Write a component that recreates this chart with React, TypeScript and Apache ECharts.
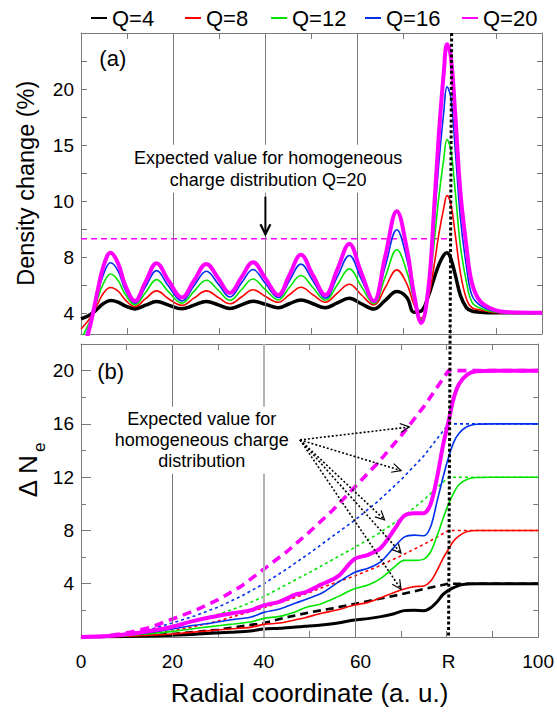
import React, { useEffect, useRef } from 'react';
import * as echarts from 'echarts';

// ---------------- data ----------------
const R = 80.4; // radius of the cluster (tick label "R")
const seriesNames = ['Q=4', 'Q=8', 'Q=12', 'Q=16', 'Q=20'];

// Panel (a): density change, radial grid
const radiusA = [0, 1.5, 2.6, 3.7, 4.8, 6.4, 8.0, 9.6, 11.7, 14.0, 16.4, 19.0, 21.9, 24.5, 27.2, 29.8, 32.3, 34.8, 37.3, 40.0, 42.8, 45.2, 47.7, 50.3, 53.0, 55.6, 58.2, 60.8, 63.5, 66.0, 68.5, 70.7, 72.2, 73.8, 75.4, 76.5, 77.6, 78.7, 79.4, 80.2, 81.2, 82.3, 83.6, 84.8, 86.6, 89.5, 93, 100];
const densQ4 = [-0.5, -0.24, 0.05, 0.45, 0.85, 1.13, 1.0, 0.65, 0.39, 0.72, 1.04, 0.72, 0.4, 0.72, 1.05, 0.75, 0.42, 0.75, 1.08, 0.8, 0.5, 0.85, 1.19, 0.85, 0.5, 0.92, 1.34, 0.85, 0.38, 1.15, 1.93, 1.4, 0.1, 0.2, 1.6, 3.0, 4.3, 5.2, 5.4, 4.9, 3.4, 1.6, 0.5, 0.2, 0.1, 0.05, 0.05, 0.05];
const densQ8 = [-1.4, -0.7, 0, 0.9, 1.75, 2.3, 2.0, 1.2, 0.6, 1.3, 2.0, 1.3, 0.7, 1.35, 2.0, 1.4, 0.85, 1.45, 2.1, 1.5, 0.98, 1.65, 2.32, 1.65, 0.98, 1.8, 2.59, 1.65, 0.74, 2.3, 3.87, 2.6, 0.8, -0.45, 1.5, 4.0, 7.0, 9.4, 10.5, 9.8, 7.0, 3.6, 1.3, 0.5, 0.3, 0.08, 0.05, 0.05];
const densQ12 = [-2.3, -1.1, 0, 1.4, 2.6, 3.5, 2.95, 1.7, 0.75, 1.85, 3.0, 1.9, 0.9, 1.95, 2.95, 2.05, 1.15, 2.1, 3.05, 2.1, 1.19, 2.3, 3.37, 2.3, 1.16, 2.55, 3.96, 2.4, 0.86, 3.25, 5.66, 3.7, 1.2, -0.6, 1.9, 5.9, 10.3, 13.8, 15.5, 14.6, 10.8, 6.0, 2.8, 1.0, 0.45, 0.13, 0.05, 0.05];
const densQ16 = [-3.1, -1.5, 0, 1.8, 3.4, 4.5, 3.8, 2.1, 0.9, 2.35, 3.8, 2.4, 1.1, 2.45, 3.75, 2.6, 1.45, 2.7, 3.9, 2.65, 1.4, 2.9, 4.38, 2.9, 1.34, 3.25, 5.15, 3.05, 0.98, 4.2, 7.45, 4.8, 1.5, -0.7, 2.2, 7.4, 13.3, 18.0, 20.2, 19.3, 14.5, 8.5, 4.2, 1.6, 0.7, 0.2, 0.06, 0.05];
const densQ20 = [-4.0, -1.9, 0, 2.2, 4.1, 5.4, 4.5, 2.5, 1.1, 2.8, 4.47, 2.9, 1.4, 2.9, 4.4, 3.1, 1.8, 3.2, 4.56, 3.1, 1.64, 3.4, 5.21, 3.4, 1.64, 3.9, 6.17, 3.6, 1.1, 5.1, 9.09, 5.7, 1.8, -0.86, 2.4, 8.7, 15.8, 21.5, 24.0, 23.0, 17.6, 10.8, 6.0, 2.7, 1.07, 0.33, 0.09, 0.05];
const expectedRadiusA = [0, R];
const expectedDensQ20 = 6.65;

// Panel (a) y axis: tick positions and their printed labels
const yTickValuesA = [0, 2.5, 5, 7.5, 10, 12.5, 15, 17.5, 20, 22.5, 25];
const yLabelValuesA = [0, 5, 10, 15, 20];
const yLabelTextsA = ['4', '8', '10', '15', '20'];

// Panel (b): cumulative Delta N_e
const radiusB = [0, 5, 10, 15, 20, 24, 28.3, 32.6, 37, 40, 43.5, 47, 49, 52.6, 56.2, 59.8, 62.8, 65.6, 68.5, 70.7, 72.9, 75, 76.5, 77.9, 79.2, 80.4, 81.5, 82.7, 84.5, 86.5, 90, 100];
const deltaQ4 = [0, 0.01, 0.03, 0.07, 0.13, 0.18, 0.28, 0.36, 0.45, 0.6, 0.65, 0.75, 0.8, 0.9, 1.05, 1.28, 1.38, 1.53, 1.75, 1.98, 2.0, 1.98, 2.2, 2.65, 3.2, 3.5, 3.7, 3.88, 3.98, 4.0, 4, 4];
const deltaQ8 = [0, 0.02, 0.06, 0.14, 0.23, 0.35, 0.48, 0.6, 0.72, 0.95, 1.05, 1.3, 1.45, 1.78, 2.05, 2.4, 2.6, 2.95, 3.35, 3.6, 3.78, 3.83, 4.2, 5.0, 5.9, 6.6, 7.2, 7.6, 7.92, 8.0, 8, 8];
const deltaQ12 = [0, 0.03, 0.1, 0.25, 0.42, 0.6, 0.78, 0.95, 1.12, 1.4, 1.55, 1.9, 2.2, 2.5, 3.03, 3.62, 3.9, 4.4, 5.25, 5.75, 5.75, 5.85, 6.4, 7.6, 8.9, 10.0, 10.8, 11.45, 11.85, 11.98, 12, 12];
const deltaQ16 = [0, 0.04, 0.15, 0.35, 0.6, 0.85, 1.03, 1.28, 1.48, 1.85, 2.1, 2.55, 2.8, 3.28, 4.1, 4.85, 5.16, 5.66, 6.75, 7.5, 7.65, 7.6, 8.3, 10.2, 12.0, 13.5, 14.6, 15.3, 15.8, 15.98, 16, 16];
const deltaQ20 = [0, 0.05, 0.2, 0.45, 0.77, 1.15, 1.48, 1.75, 2.0, 2.38, 2.66, 3.2, 3.35, 3.95, 4.55, 5.85, 6.17, 6.7, 8.05, 9.1, 9.3, 9.3, 10.0, 12.0, 14.4, 16.2, 17.9, 19.0, 19.7, 19.95, 20, 20];

// Panel (b): expected values for a homogeneous charge distribution
const radiusExp = [0, 5, 10, 15, 20, 25, 30, 35, 40, 45, 50, 55, 60, 65, 70, 75, R, 100];
const expQ4 = [0, 0.01, 0.05, 0.12, 0.23, 0.38, 0.55, 0.8, 1.05, 1.48, 1.85, 2.15, 2.5, 2.85, 3.2, 3.6, 4, 4];
const expQ8 = [0, 0.02, 0.12, 0.28, 0.45, 0.8, 1.2, 1.7, 2.2, 2.75, 3.35, 4.0, 4.6, 5.3, 6.1, 6.95, 8, 8];
const expQ12 = [0, 0.03, 0.18, 0.42, 0.78, 1.2, 1.7, 2.3, 3.03, 3.95, 4.85, 5.8, 6.75, 7.75, 8.9, 10.3, 12, 12];
const expQ16 = [0, 0.04, 0.24, 0.56, 1.05, 1.6, 2.25, 3.05, 4.0, 5.1, 6.3, 7.55, 8.8, 10.2, 11.8, 13.6, 16, 16];
const expQ20 = [0, 0.05, 0.3, 0.7, 1.35, 2.0, 2.8, 3.8, 5.1, 6.4, 7.9, 9.5, 11.3, 13.1, 15.1, 17.3, 20, 20];

// x axis labels
const xLabelValues = [0, 20, 40, 60, R, 100];
const xLabelTexts = ['0', '20', '40', '  60', 'R', '100'];
const gridLineValues = [20, 40, 60];

// ---------------- styles ----------------
const FONT = "'Liberation Sans', Arial, Helvetica, sans-serif";
const colors = ['#000000', '#ff0000', '#00e600', '#0030ee', '#ff00ff'];
const widthsA = [3.5, 1.6, 1.6, 1.6, 4];
const widthsB = [3, 1.6, 1.6, 1.6, 4];
const expStyles: any[] = [
  { width: 2.6, type: [8, 5] },
  { width: 1.6, type: [3, 3] },
  { width: 1.6, type: [3, 3] },
  { width: 1.6, type: [3, 3] },
  { width: 3.6, type: [9, 6] },
];
const FRAME = '#7a7a7a';

function buildOption() {
  const densA = [densQ4, densQ8, densQ12, densQ16, densQ20];
  const deltaB = [deltaQ4, deltaQ8, deltaQ12, deltaQ16, deltaQ20];
  const expB = [expQ4, expQ8, expQ12, expQ16, expQ20];

  const markGrid = (lighterIdx: number) => ({
    silent: true,
    symbol: ['none', 'none'],
    label: { show: false },
    animation: false,
    lineStyle: { color: FRAME, width: 1, type: 'solid' },
    data: gridLineValues.map((v, i) =>
      i === lighterIdx
        ? { xAxis: v, lineStyle: { color: '#b4b4b4', width: 2, type: 'solid' } }
        : { xAxis: v }
    ),
  });

  const series: any[] = [];
  series.push({
    name: 'expected-a',
    type: 'line',
    xAxisIndex: 0,
    yAxisIndex: 0,
    data: expectedRadiusA.map((r) => [r, expectedDensQ20]),
    symbol: 'none',
    lineStyle: { color: '#ff00ff', width: 1.5, type: [6, 4] },
    z: 2,
    markLine: markGrid(-1),
  });
  densA.forEach((vals, i) => {
    series.push({
      name: seriesNames[i],
      type: 'line',
      xAxisIndex: 0,
      yAxisIndex: 0,
      data: radiusA.map((r, j) => [r, vals[j]]),
      smooth: 0.4,
      symbol: 'none',
      lineStyle: { color: colors[i], width: widthsA[i], join: 'round' },
      itemStyle: { color: colors[i] },
      z: 3 + i,
    });
  });
  expB.forEach((vals, i) => {
    series.push({
      name: seriesNames[i] + ' expected',
      type: 'line',
      xAxisIndex: 2,
      yAxisIndex: 2,
      data: radiusExp.map((r, j) => [r, vals[j]]),
      smooth: false,
      symbol: 'none',
      lineStyle: { color: colors[i], width: expStyles[i].width, type: expStyles[i].type },
      itemStyle: { color: colors[i] },
      z: 3,
      ...(i === 0 ? { markLine: markGrid(1) } : {}),
    });
  });
  deltaB.forEach((vals, i) => {
    series.push({
      name: seriesNames[i],
      type: 'line',
      xAxisIndex: 2,
      yAxisIndex: 2,
      data: radiusB.map((r, j) => [r, vals[j]]),
      smooth: 0.3,
      symbol: 'none',
      lineStyle: { color: colors[i], width: widthsB[i], join: 'round' },
      itemStyle: { color: colors[i] },
      z: 4 + i,
    });
  });

  const lineStyle = { color: FRAME, width: 1 };
  const xCommon: any = {
    type: 'value',
    min: 0,
    max: 100,
    interval: 10,
    axisLine: { show: true, onZero: false, lineStyle },
    axisTick: { show: true, inside: true, length: 6, lineStyle },
    axisLabel: { show: false },
    splitLine: { show: false },
  };
  const labelStyle = { color: '#000', fontSize: 19, fontFamily: FONT };

  const legendLefts = [91, 185, 271, 365, 462];

  return {
    animation: false,
    backgroundColor: '#ffffff',
    textStyle: { fontFamily: FONT },
    legend: seriesNames.map((n, i) => ({
      data: [n],
      left: legendLefts[i],
      top: 7,
      padding: 0,
      icon: 'rect',
      itemWidth: 16,
      itemHeight: 2,
      itemStyle: { borderWidth: 0 },
      selectedMode: false,
      textStyle: { fontSize: 22, color: '#000', fontFamily: FONT },
    })),
    grid: [
      { left: 81, top: 33, width: 461, height: 301 },
      { left: 81, top: 344, width: 461, height: 293 },
    ],
    xAxis: [
      { ...xCommon, gridIndex: 0, position: 'bottom' },
      { ...xCommon, gridIndex: 0, position: 'top' },
      {
        ...xCommon,
        gridIndex: 1,
        position: 'bottom',
        axisLabel: {
          show: true,
          customValues: xLabelValues,
          margin: 15,
          ...labelStyle,
          formatter: (v: number) => {
            const idx = xLabelValues.findIndex((x) => Math.abs(x - v) < 1e-6);
            return idx >= 0 ? xLabelTexts[idx] : '';
          },
        },
        name: 'Radial coordinate (a. u.)',
        nameLocation: 'middle',
        nameGap: 43,
        nameTextStyle: { fontSize: 26, color: '#000', fontFamily: FONT },
      },
      { ...xCommon, gridIndex: 1, position: 'top' },
    ],
    yAxis: [
      {
        type: 'value',
        gridIndex: 0,
        position: 'left',
        min: -1.85,
        max: 25,
        axisLine: { show: true, onZero: false, lineStyle },
        axisTick: { show: true, inside: true, length: 6, customValues: yTickValuesA, lineStyle },
        axisLabel: {
          show: true,
          customValues: yLabelValuesA,
          margin: 7,
          ...labelStyle,
          formatter: (v: number) => {
            const idx = yLabelValuesA.findIndex((x) => Math.abs(x - v) < 1e-6);
            return idx >= 0 ? yLabelTextsA[idx] : '';
          },
        },
        splitLine: { show: false },
      },
      {
        type: 'value',
        gridIndex: 0,
        position: 'right',
        min: -1.85,
        max: 25,
        axisLine: { show: true, onZero: false, lineStyle },
        axisTick: { show: true, inside: true, length: 5, customValues: yTickValuesA, lineStyle },
        axisLabel: { show: false },
        splitLine: { show: false },
      },
      {
        type: 'value',
        gridIndex: 1,
        position: 'left',
        min: 0,
        max: 22,
        interval: 4,
        axisLine: { show: true, onZero: false, lineStyle },
        axisTick: { show: true, inside: true, length: 10, lineStyle },
        axisLabel: {
          show: true,
          margin: 7,
          ...labelStyle,
          formatter: (v: number) => (v > 0 && v % 4 === 0 ? String(v) : ''),
        },
        splitLine: { show: false },
      },
      {
        type: 'value',
        gridIndex: 1,
        position: 'left',
        min: 0,
        max: 22,
        interval: 2,
        axisLine: { show: false, onZero: false },
        axisTick: { show: true, inside: true, length: 5, lineStyle },
        axisLabel: { show: false },
        splitLine: { show: false },
      },
      {
        type: 'value',
        gridIndex: 1,
        position: 'right',
        min: 0,
        max: 22,
        interval: 2,
        axisLine: { show: true, onZero: false, lineStyle },
        axisTick: { show: true, inside: true, length: 5, lineStyle },
        axisLabel: { show: false },
        splitLine: { show: false },
      },
    ],
    series,
  };
}

// annotation anchors (data coordinates)
const annA = { text: [40.6, 12.9], arrowFrom: [40, 10.4], arrowTo: [40, 7.05] };
const annB = {
  text: [26.4, 14.77],
  origin: [47.9, 14.8],
  tips: [[71.8, 15.77], [70.0, 12.5], [66.4, 8.8], [70.0, 6.3], [70.0, 3.59]],
};

function arrowHead(tip: number[], from: number[], len: number, half: number, width: number, z: number) {
  const dx = tip[0] - from[0];
  const dy = tip[1] - from[1];
  const d = Math.hypot(dx, dy) || 1;
  const ux = dx / d;
  const uy = dy / d;
  const bx = tip[0] - ux * len;
  const by = tip[1] - uy * len;
  return {
    type: 'polyline',
    z,
    silent: true,
    shape: { points: [[bx - uy * half, by + ux * half], [tip[0], tip[1]], [bx + uy * half, by - ux * half]] },
    style: { stroke: '#000', lineWidth: width, fill: 'none' },
  };
}

export default function App() {
  const ref = useRef<HTMLDivElement>(null);
  useEffect(() => {
    document.body.style.margin = '0';
    const chart = echarts.init(ref.current!, null, { renderer: 'svg' });
    chart.setOption(buildOption() as any);

    const pA = (x: number, y: number) => chart.convertToPixel({ xAxisIndex: 0, yAxisIndex: 0 } as any, [x, y]) as number[];
    const pB = (x: number, y: number) => chart.convertToPixel({ xAxisIndex: 2, yAxisIndex: 2 } as any, [x, y]) as number[];

    const rTop = pA(R, 25);
    const rBot = pB(R, 0);
    const tA = pA(annA.text[0], annA.text[1]);
    const aFrom = pA(annA.arrowFrom[0], annA.arrowFrom[1]);
    const aTo = pA(annA.arrowTo[0], annA.arrowTo[1]);
    const tB = pB(annB.text[0], annB.text[1]);
    const oB = pB(annB.origin[0], annB.origin[1]);
    const labA = pA(6.9, 22.7);
    const labB = pB(6.5, 19.9);
    const gridA0 = pA(0, 11.6);
    const gridB0 = pB(0, 12.9);

    const elements: any[] = [
      {
        type: 'line',
        z: 120,
        silent: true,
        shape: { x1: rTop[0], y1: rTop[1], x2: rBot[0], y2: rBot[1] },
        style: { stroke: '#000', lineWidth: 3, lineDash: [3, 2.4] },
      },
      {
        type: 'text',
        z: 110,
        x: tA[0],
        y: tA[1],
        style: {
          text: 'Expected value for homogeneous\ncharge distribution Q=20',
          fontSize: 18,
          fontFamily: FONT,
          fill: '#000',
          align: 'center',
          verticalAlign: 'middle',
          lineHeight: 22,
          backgroundColor: '#ffffff',
          padding: [2, 3],
        },
      },
      {
        type: 'line',
        z: 110,
        silent: true,
        shape: { x1: aFrom[0], y1: aFrom[1], x2: aTo[0], y2: aTo[1] - 2 },
        style: { stroke: '#000', lineWidth: 2 },
      },
      arrowHead(aTo, aFrom, 10, 5, 2.2, 111),
      {
        type: 'text',
        z: 110,
        x: tB[0],
        y: tB[1],
        style: {
          text: 'Expected value for\nhomogeneous charge\ndistribution',
          fontSize: 18,
          fontFamily: FONT,
          fill: '#000',
          align: 'center',
          verticalAlign: 'middle',
          lineHeight: 21,
          backgroundColor: '#ffffff',
          padding: [2, 3],
        },
      },
      {
        type: 'text',
        z: 110,
        x: labA[0],
        y: labA[1],
        style: { text: '(a)', fontSize: 22, fontFamily: FONT, fill: '#000', align: 'center', verticalAlign: 'middle' },
      },
      {
        type: 'text',
        z: 110,
        x: labB[0],
        y: labB[1],
        style: { text: '(b)', fontSize: 22, fontFamily: FONT, fill: '#000', align: 'center', verticalAlign: 'middle' },
      },
      {
        type: 'text',
        z: 110,
        x: gridA0[0] - 55,
        y: gridA0[1],
        rotation: Math.PI / 2,
        style: { text: 'Density change (%)', fontSize: 23.5, fontFamily: FONT, fill: '#000', align: 'center', verticalAlign: 'middle' },
      },
      {
        type: 'text',
        z: 110,
        x: gridB0[0] - 53.5,
        y: gridB0[1] + 11,
        rotation: Math.PI / 2,
        style: { text: 'Δ N', fontSize: 26, fontFamily: FONT, fill: '#000', align: 'center', verticalAlign: 'middle' },
      },
      {
        type: 'text',
        z: 110,
        x: gridB0[0] - 42,
        y: gridB0[1] - 18,
        rotation: Math.PI / 2,
        style: { text: 'e', fontSize: 17, fontFamily: FONT, fill: '#000', align: 'center', verticalAlign: 'middle' },
      },
    ];
    annB.tips.forEach((t) => {
      const tip = pB(t[0], t[1]);
      elements.push({
        type: 'line',
        z: 112,
        silent: true,
        shape: { x1: oB[0], y1: oB[1], x2: tip[0], y2: tip[1] },
        style: { stroke: '#000', lineWidth: 1.6, lineDash: [2, 2] },
      });
      elements.push(arrowHead(tip, oB, 9, 4.5, 1.2, 113));
    });

    chart.setOption({ graphic: elements } as any);
    return () => chart.dispose();
  }, []);
  return <div ref={ref} style={{ width: 557, height: 716 }} />;
}
